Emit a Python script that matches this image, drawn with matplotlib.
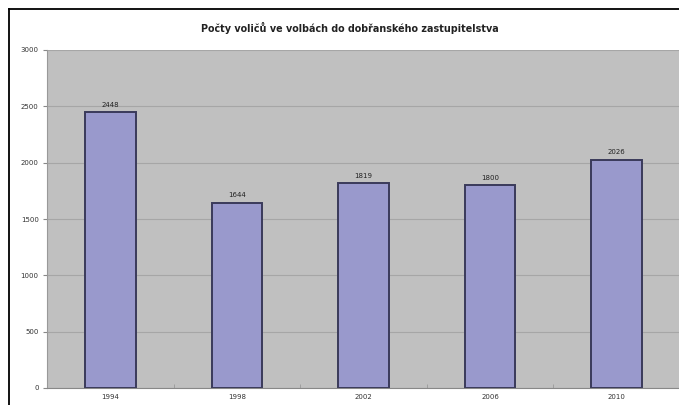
"""Počty voličů ve volbách do dobřanského zastupitelstva."""
import matplotlib
matplotlib.use("Agg")
import matplotlib.pyplot as plt
from matplotlib.lines import Line2D
import numpy as np

years = ["1994", "1998", "2002", "2006", "2010"]
voters = [2448, 1644, 1819, 1800, 2026]
y_ticks = [0, 500, 1000, 1500, 2000, 2500, 3000]

fig = plt.figure(figsize=(6.79, 4.05), dpi=100)
fig.patch.set_facecolor("white")

# plot area runs to the right edge (the original is cropped)
ax = fig.add_axes([47/679, 17/405, 633/679, 338/405])
ax.set_facecolor("#c0c0c0")
x = np.arange(len(years))
bars = ax.bar(x, voters, width=0.4, color="#9999cc", edgecolor="#3a3a5a", linewidth=1.4, zorder=3)
for b, v in zip(bars, voters):
    ax.text(b.get_x() + b.get_width()/2, v + 40, str(v), ha="center", va="bottom",
            fontsize=5, color="#222222", zorder=4)

ax.set_xlim(-0.5, 4.5)
ax.set_ylim(0, 3000)
ax.set_yticks(y_ticks)
ax.set_yticklabels([str(t) for t in y_ticks], fontsize=5, color="#333333")
ax.set_xticks(x)
ax.set_xticklabels(years, fontsize=5, color="#333333")
ax.set_xticks(x[:-1] + 0.5, minor=True)
ax.tick_params(axis="x", which="major", length=0, pad=4)
ax.tick_params(axis="x", which="minor", length=3, direction="in", color="#999999")
ax.tick_params(axis="y", length=3, color="#888888", pad=3)
ax.grid(axis="y", color="#a6a6a6", linewidth=0.8, zorder=0)
for s in ["top", "right"]:
    ax.spines[s].set_visible(False)
ax.spines["left"].set_color("#999999")
ax.spines["bottom"].set_color("#888888")

fig.text(350/679, 1 - 28/405, "Počty voličů ve volbách do dobřanského zastupitelstva",
         ha="center", va="center", fontsize=6.9, fontweight="bold", color="#222222")

# black frame lines at top and left
fig.add_artist(Line2D([9/679, 9/679], [0, 1 - 9/405], color="black", linewidth=1.3))
fig.add_artist(Line2D([9/679, 1], [1 - 9/405, 1 - 9/405], color="black", linewidth=1.3))

plt.savefig("out.png", dpi=100)
plt.close()
